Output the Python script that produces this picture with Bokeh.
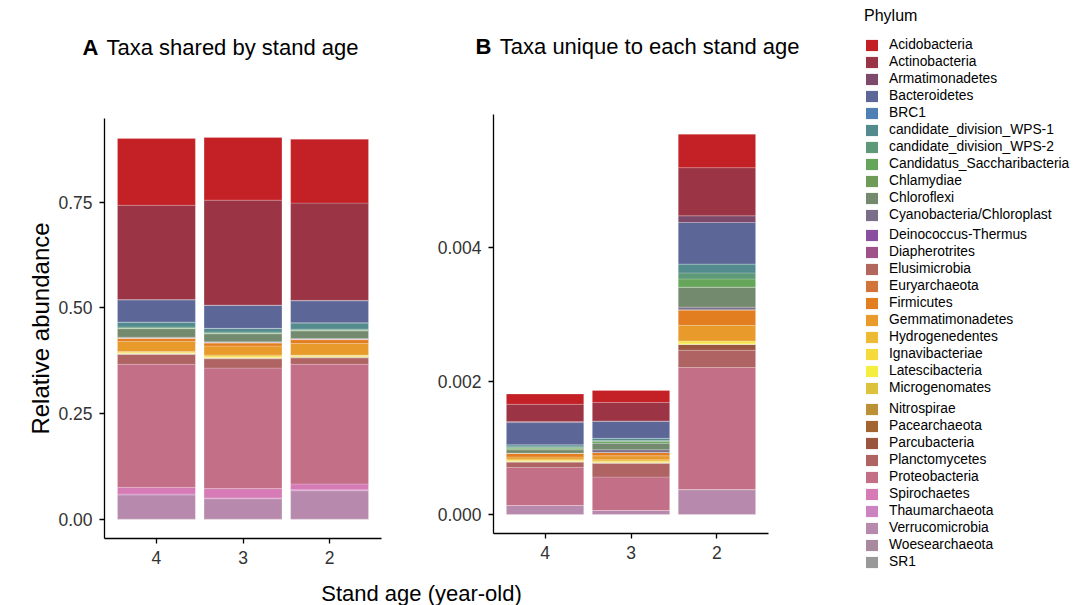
from bokeh.plotting import figure
from bokeh.models import (ColumnDataSource, FactorRange, Range1d, Legend, LegendItem,
                          Label, FixedTicker, NumeralTickFormatter)
from bokeh.layouts import row, column
from bokeh.embed import file_html
from bokeh.resources import INLINE

ages = ["4", "3", "2"]

phyla = ["Acidobacteria", "Actinobacteria", "Armatimonadetes", "Bacteroidetes", "BRC1",
         "candidate_division_WPS-1", "candidate_division_WPS-2", "Candidatus_Saccharibacteria",
         "Chlamydiae", "Chloroflexi", "Cyanobacteria/Chloroplast", "Deinococcus-Thermus",
         "Diapherotrites", "Elusimicrobia", "Euryarchaeota", "Firmicutes", "Gemmatimonadetes",
         "Hydrogenedentes", "Ignavibacteriae", "Latescibacteria", "Microgenomates", "Nitrospirae",
         "Pacearchaeota", "Parcubacteria", "Planctomycetes", "Proteobacteria", "Spirochaetes",
         "Thaumarchaeota", "Verrucomicrobia", "Woesearchaeota", "SR1"]

colors = ["#C42127", "#9B3444", "#7D4A6C", "#5C6797", "#4F80B4",
          "#548B8E", "#5E9A78", "#66A65A",
          "#6E9C58", "#738A6E", "#7B6E8A", "#8A4F9E",
          "#9F5289", "#B3665E", "#D2733A", "#E27E20", "#E89B2B",
          "#EDBA35", "#F5DC3C", "#F4EE40", "#DCC23D", "#BC9136",
          "#A26532", "#9B5640", "#AF6363", "#C46F88", "#D67BB6",
          "#CC84C1", "#B78AAD", "#A78A9E", "#999999"]

# Panel A: taxa shared by stand age (relative abundance), phylum order as in legend
shared_4 = [0.158, 0.223, 0.001, 0.052, 0.0005, 0.0115, 0.0025, 0.001, 0.0005, 0.020, 0.0013,
            0.0002, 0.0002, 0.0005, 0.0008, 0.007, 0.024, 0.0015, 0.002, 0.001, 0.0005, 0.0008,
            0.0002, 0.001, 0.023, 0.291, 0.016, 0.002, 0.0572, 0.0005, 0.0003]
shared_3 = [0.148, 0.248, 0.001, 0.054, 0.0005, 0.0085, 0.0025, 0.001, 0.0005, 0.019, 0.0013,
            0.0002, 0.0002, 0.0005, 0.0008, 0.007, 0.021, 0.0025, 0.003, 0.001, 0.0005, 0.0008,
            0.0002, 0.001, 0.022, 0.285, 0.022, 0.002, 0.0482, 0.0005, 0.0003]
shared_2 = [0.151, 0.230, 0.001, 0.052, 0.0005, 0.0145, 0.0025, 0.001, 0.0005, 0.018, 0.0013,
            0.0002, 0.0002, 0.0005, 0.0008, 0.009, 0.027, 0.0015, 0.002, 0.001, 0.0005, 0.0008,
            0.0002, 0.001, 0.015, 0.283, 0.014, 0.002, 0.0672, 0.0005, 0.0003]

# Panel B: taxa unique to each stand age
unique_4 = [1.54e-4, 2.59e-4, 1.5e-5, 3.33e-4, 0, 3.0e-5, 1.5e-5, 1.5e-5, 1.5e-5, 5.0e-5, 0,
            0, 0, 0, 0, 5.7e-5, 3.0e-5, 2.0e-5, 1.2e-5, 5e-6, 0, 0,
            0, 1.5e-5, 7.5e-5, 5.72e-4, 0, 0, 1.34e-4, 0, 0]
unique_3 = [1.80e-4, 2.77e-4, 8e-6, 2.51e-4, 0, 3.4e-5, 1.5e-5, 2.5e-5, 0, 1.00e-4, 4.0e-5,
            0, 0, 0, 0, 5.0e-5, 6.0e-5, 2.0e-5, 1.5e-5, 1.0e-5, 0, 0,
            0, 5e-6, 2.08e-4, 5.02e-4, 0, 0, 6.0e-5, 0, 0]
unique_2 = [5.00e-4, 7.22e-4, 1.00e-4, 6.22e-4, 0, 1.34e-4, 9.0e-5, 1.24e-4, 0, 2.99e-4, 3.9e-5,
            0, 0, 0, 0, 2.34e-4, 2.34e-4, 0, 3.0e-5, 2.0e-5, 0, 0,
            0, 8.9e-5, 2.59e-4, 1.831e-3, 0, 0, 3.73e-4, 0, 0]

FONT = "Liberation Sans"


def make_source(v4, v3, v2):
    data = {"age": ages}
    for i, ph in enumerate(phyla):
        data[ph] = [v4[i], v3[i], v2[i]]
    return ColumnDataSource(data)


def style(p, tick_size="17.5px"):
    p.outline_line_color = None
    p.xgrid.grid_line_color = None
    p.ygrid.grid_line_color = None
    for ax in (p.xaxis[0], p.yaxis[0]):
        ax.axis_line_color = "black"
        ax.axis_line_width = 1.3
        ax.major_tick_line_color = "black"
        ax.major_tick_line_width = 1.3
        ax.major_tick_out = 5
        ax.major_tick_in = 0
        ax.minor_tick_line_color = None
        ax.major_label_text_font = FONT
        ax.major_label_text_font_size = tick_size
        ax.major_label_text_color = "#333333"
        ax.major_label_standoff = 7
    p.xaxis.axis_label_standoff = 0


def blank(p):
    p.xaxis.visible = False
    p.yaxis.visible = False
    p.xgrid.grid_line_color = None
    p.ygrid.grid_line_color = None
    p.outline_line_color = None


def stack(p, src):
    rev = phyla[::-1]
    rcol = colors[::-1]
    p.vbar_stack(rev, x="age", width=0.9, color=rcol, source=src,
                 line_color="white", line_alpha=0.25, line_width=0.8)


def text_fig(w, h):
    f = figure(width=w, height=h, title=None, toolbar_location=None, output_backend="svg",
               x_range=Range1d(0, 1), y_range=Range1d(0, 1),
               min_border_left=0, min_border_right=0, min_border_top=0, min_border_bottom=0)
    blank(f)
    return f


def lab(f, x, y, text, size="22px", bold=False, align="left"):
    f.add_layout(Label(x=x, y=y, x_units="screen", y_units="screen", text=text,
                       text_font=FONT, text_font_size=size,
                       text_font_style="bold" if bold else "normal",
                       text_baseline="alphabetic", text_align=align, text_color="black"))


# ---------------- panel titles (one strip over both panels) ----------------
tT = text_fig(857, 70)
lab(tT, 82, 23, "A", bold=True)
lab(tT, 106, 23, "Taxa shared by stand age")
lab(tT, 475, 23.7, "B", bold=True)
lab(tT, 499.3, 23.7, "Taxa unique to each stand age")

# ---------------- Panel A ----------------
pA = figure(width=420, height=506, title=None, toolbar_location=None, output_backend="svg",
            x_range=FactorRange(*ages, range_padding=0.1, range_padding_units="absolute"),
            y_range=Range1d(-0.045, 0.948),
            min_border_left=104, min_border_right=39, min_border_top=48, min_border_bottom=38)
stack(pA, make_source(shared_4, shared_3, shared_2))
style(pA)
pA.yaxis.ticker = FixedTicker(ticks=[0, 0.25, 0.5, 0.75])
pA.yaxis.formatter = NumeralTickFormatter(format="0.00")
pA.yaxis.axis_label = "Relative abundance"
pA.yaxis.axis_label_text_font = FONT
pA.yaxis.axis_label_text_font_size = "24px"
pA.yaxis.axis_label_text_font_style = "normal"
pA.yaxis.axis_label_text_color = "black"
pA.yaxis.axis_label_standoff = 1

# ---------------- Panel B ----------------
pB = figure(width=437, height=506, title=None, toolbar_location=None, output_backend="svg",
            x_range=FactorRange(*ages, range_padding=0.1, range_padding_units="absolute"),
            y_range=Range1d(-0.000285, 0.005997),
            min_border_left=73, min_border_right=89, min_border_top=44, min_border_bottom=43)
stack(pB, make_source(unique_4, unique_3, unique_2))
style(pB)
pB.yaxis.ticker = FixedTicker(ticks=[0, 0.002, 0.004, 0.006])
pB.yaxis.formatter = NumeralTickFormatter(format="0.000")

# ---------------- Legend (three stacked blocks to keep the item pitch) ----------------
chunks = [(0, 11, 225, 5), (11, 21, 174, 0), (21, 31, 177, 0)]
legend_figs = []
for k, (i0, i1, h, top) in enumerate(chunks):
    f = figure(width=234, height=h, title=None, toolbar_location=None, output_backend="svg",
               x_range=Range1d(0, 1), y_range=Range1d(0, 1),
               min_border_left=5, min_border_right=0, min_border_top=top, min_border_bottom=0)
    blank(f)
    items = []
    for ph, c in zip(phyla[i0:i1], colors[i0:i1]):
        # swatch-only renderer, placed outside the visible range
        r = f.vbar(x=[5], top=[6], bottom=[5], width=0.5, fill_color=c, line_color=None)
        items.append(LegendItem(label=ph, renderers=[r]))
    kw = {}
    if k == 0:
        kw = dict(title="Phylum", title_text_font=FONT, title_text_font_size="16px",
                  title_text_font_style="normal", title_text_color="black", title_standoff=12)
    lg = Legend(items=items, location="top_left",
                label_text_font=FONT, label_text_font_size="13.8px", label_text_color="black",
                glyph_width=15, glyph_height=14, label_height=10, label_standoff=10,
                spacing=2, padding=0, margin=2,
                border_line_color=None, background_fill_alpha=0, **kw)
    f.add_layout(lg, "center")
    legend_figs.append(f)

# ---------------- shared x-axis title ----------------
pX = text_fig(1091, 29)
lab(pX, 421, 12, "Stand age (year-old)", align="center")

layout = column(row(column(tT, row(column(pA), column(pB))), column(*legend_figs)), pX)
open("out.html", "w").write(file_html(layout, INLINE))
